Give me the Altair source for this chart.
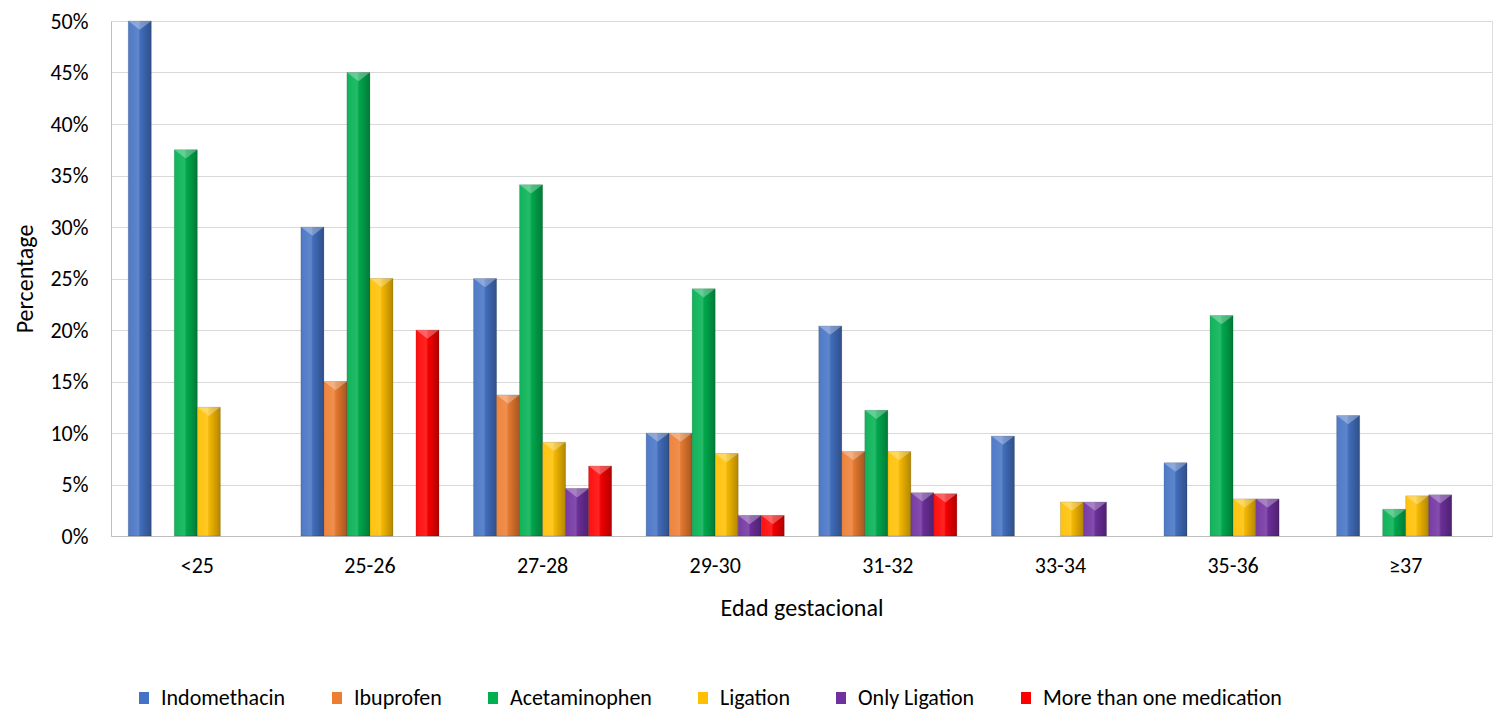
import altair as alt
import pandas as pd

categories = ["<25", "25-26", "27-28", "29-30", "31-32", "33-34", "35-36", "≥37"]
series_names = ["Indomethacin", "Ibuprofen", "Acetaminophen", "Ligation", "Only Ligation", "More than one medication"]
indomethacin = [50.0, 30.0, 25.0, 10.0, 20.4, 9.7, 7.1, 11.7]
ibuprofen = [0, 15.0, 13.7, 10.0, 8.2, 0, 0, 0]
acetaminophen = [37.5, 45.0, 34.1, 24.0, 12.2, 0, 21.4, 2.6]
ligation = [12.5, 25.0, 9.1, 8.0, 8.2, 3.3, 3.6, 3.9]
only_ligation = [0, 0, 4.6, 2.0, 4.2, 3.3, 3.6, 4.0]
more_than_one = [0, 20.0, 6.8, 2.0, 4.1, 0, 0, 0]
colors = ["#4472C4", "#ED7D31", "#00B050", "#FFC000", "#7030A0", "#FF0000"]
y_ticks = [0, 5, 10, 15, 20, 25, 30, 35, 40, 45, 50]

all_series = [indomethacin, ibuprofen, acetaminophen, ligation, only_ligation, more_than_one]
rows = []
for name, vals in zip(series_names, all_series):
    for c, v in zip(categories, vals):
        rows.append({"cat": c, "series": name, "value": v})
df = pd.DataFrame(rows)

FONT = "Carlito, Lato"
W, H = 1381, 515
bar_w = W / 8 * 0.8 / 6

x_enc = alt.X("cat:N", sort=categories,
              scale=alt.Scale(paddingInner=0.2, paddingOuter=0.1),
              axis=alt.Axis(title="Edad gestacional", labelAngle=0, ticks=False, tickSize=0,
                            labelPadding=19, titlePadding=20, domainColor="#BFBFBF",
                            labelFontSize=22, titleFontSize=24, labelColor="#000000",
                            titleColor="#000000", titleFontWeight="normal"))
xoff = alt.XOffset("series:N", sort=series_names, scale=alt.Scale(paddingInner=0, paddingOuter=0))
y_enc = alt.Y("value:Q", scale=alt.Scale(domain=[0, 50], nice=False),
              axis=alt.Axis(title="Percentage", values=y_ticks, labelExpr="datum.value + '%'",
                            ticks=False, tickSize=0, labelPadding=23, titlePadding=12,
                            gridColor="#D9D9D9", domainColor="#BFBFBF",
                            labelFontSize=22, titleFontSize=24, labelColor="#000000",
                            titleColor="#000000", titleFontWeight="normal"))

base = alt.Chart(df).transform_filter("datum.value > 0")

bars = base.mark_bar(stroke="rgba(0,0,0,0.25)", strokeWidth=0.6).encode(
    x=x_enc, xOffset=xoff, y=y_enc,
    color=alt.Color("series:N", sort=series_names,
                    scale=alt.Scale(domain=series_names, range=colors),
                    legend=alt.Legend(title=None, orient="none", direction="horizontal",
                                      legendX=22, legendY=666, padding=0,
                                      columnPadding=40, labelOffset=6, labelLimit=0,
                                      symbolType="M-1,-1.2H1V1.2H-1Z", symbolSize=100,
                                      symbolStrokeWidth=0, labelFontSize=22, labelColor="#000000",
                                      labelFont=FONT)),
)

shade = base.mark_bar(color=alt.Gradient(
    gradient="linear", x1=0, x2=1, y1=0, y2=0,
    stops=[alt.GradientStop(color="rgba(255,255,255,0.06)", offset=0),
           alt.GradientStop(color="rgba(255,255,255,0.14)", offset=0.45),
           alt.GradientStop(color="rgba(0,0,0,0.06)", offset=0.55),
           alt.GradientStop(color="rgba(0,0,0,0.30)", offset=1)])).encode(
    x=alt.X("cat:N", sort=categories), xOffset=alt.XOffset("series:N", sort=series_names),
    y=alt.Y("value:Q"))

tops = base.mark_point(shape="M-1,-0.38L1,-0.38L0,0.38Z", size=bar_w * bar_w, filled=True,
                       fill="white", opacity=0.3, strokeWidth=0, yOffset=4.4).encode(
    x=alt.X("cat:N", sort=categories), xOffset=alt.XOffset("series:N", sort=series_names),
    y=alt.Y("value:Q"))

chart = alt.layer(bars, shade, tops).properties(
    width=W, height=H,
    autosize=alt.AutoSizeParams(type="none"),
    padding={"left": 103, "top": 13, "right": 1, "bottom": 175},
).configure_view(stroke=None).configure(font=FONT)

chart.save("out.html", embed_options={"renderer": "svg", "actions": False})
